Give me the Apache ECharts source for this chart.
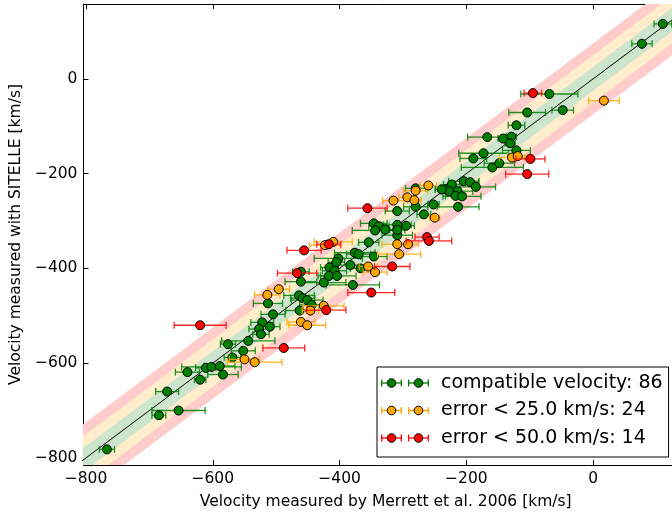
<!DOCTYPE html>
<html>
<head>
<meta charset="utf-8">
<script src="https://cdn.jsdelivr.net/npm/echarts@6/dist/echarts.min.js"></script>
<style>
  html, body { margin: 0; padding: 0; background: #fff; }
  #chart { width: 672px; height: 516px; }
</style>
</head>
<body>
<div id="chart"></div>
<script>
// [x Merrett, y SITELLE, x error]  (km/s)
var greenPts = [
  [110,116,14],[77,74,16],[-69,-32,45],[-104,-71,29],[-48,-66,17],[-121,-98,13],[-167,-123,31],
  [-142,-126,8],[-129,-122,8],[-131,-136,8],[-121,-151,22],[-173,-157,39],[-189,-168,21],
  [-159,-187,49],[-148,-178,24],
  [-223,-223,13],[-204,-216,24],[-194,-218,13],[-185,-228,31],[-233,-233,16],[-227,-237,13],
  [-214,-237,24],[-217,-247,16],[-207,-248,30],[-280,-231,16],[-280,-270,19],[-252,-265,9],
  [-213,-270,33],[-309,-279,19],[-267,-286,11],
  [-346,-305,21],[-338,-311,16],[-309,-308,22],[-295,-310,13],[-344,-320,36],[-328,-318,16],
  [-309,-330,24],[-354,-345,16],[-376,-367,32],[-370,-370,19],[-346,-375,21],[-402,-379,38],
  [-405,-387,13],[-383,-393,27],[-416,-398,14],[-408,-405,19],[-417,-416,13],[-404,-416,30],
  [-367,-400,16],[-379,-435,42],[-425,-430,35],
  [-461,-407,13],[-461,-428,25],[-464,-457,24],[-458,-463,19],[-451,-467,25],[-444,-477,19],
  [-513,-474,23],[-463,-489,22],[-505,-497,19],[-522,-514,18],[-527,-528,16],[-510,-523,16],
  [-524,-539,13],[-544,-553,42],[-576,-560,12],[-552,-574,19],[-569,-588,13],[-611,-610,16],
  [-602,-608,47],[-589,-606,24],[-640,-619,19],[-584,-624,24],[-620,-635,9],[-672,-660,18],
  [-654,-700,42],[-685,-710,11],[-767,-782,12],
  [-309,-319,12],[-239,-233,10]
];
var orangePts = [
  [17,-46,24],[-128,-166,20],[-119,-163,16],[-260,-225,13],[-280,-236,19],[-293,-250,13],
  [-282,-256,11],[-315,-257,17],[-250,-293,8],[-309,-349,24],[-292,-349,16],[-306,-370,34],
  [-355,-396,14],[-344,-408,19],[-410,-344,30],[-423,-351,24],[-425,-479,32],[-446,-489,13],
  [-514,-456,20],[-496,-444,17],[-461,-513,22],[-451,-520,29],[-550,-592,24],[-534,-598,43]
];
var redPts = [
  [-95,-30,14],[-99,-169,23],[-104,-201,34],[-356,-273,31],[-262,-334,19],[-259,-342,36],
  [-456,-362,27],[-417,-349,19],[-467,-410,31],[-421,-488,31],[-620,-520,41],[-488,-568,33],
  [-317,-396,28],[-350,-451,37]
];
var groupNames = ['compatible velocity: 86', 'error < 25.0 km/s: 24', 'error < 50.0 km/s: 14'];
var bandHalf = [75, 50, 25];
var diagEnds = [-1000, 400];
var xTicks = [-800, -600, -400, -200, 0];
var yTicks = [-800, -600, -400, -200, 0];

var colors = ['#008000', '#ffa500', '#ff0000'];
var bandColors = ['#ffcccc', '#ffedcc', '#cce5cc'];
var font = 'DejaVu Sans';

function minus(v) { return v < 0 ? '\u2212' + Math.abs(v) : String(v); }

function legendIcon(c) {
  var bar = function (o) {
    return "<line x1='" + (o + 0.7) + "' y1='7' x2='" + (o + 20.3) + "' y2='7'/>" +
      "<line x1='" + (o + 0.7) + "' y1='3.5' x2='" + (o + 0.7) + "' y2='10.5'/>" +
      "<line x1='" + (o + 20.3) + "' y1='3.5' x2='" + (o + 20.3) + "' y2='10.5'/>";
  };
  var svg = "<svg xmlns='http://www.w3.org/2000/svg' width='54' height='14' viewBox='0 0 54 14'>" +
    "<g stroke='" + c + "' stroke-width='1.3'>" + bar(0) + bar(27) + "</g>" +
    "<circle cx='10.5' cy='7' r='4.3' fill='" + c + "' stroke='#000' stroke-width='1'/>" +
    "<circle cx='37.5' cy='7' r='4.3' fill='" + c + "' stroke='#000' stroke-width='1'/></svg>";
  return 'image://data:image/svg+xml;charset=utf-8,' + encodeURIComponent(svg);
}

function barsSeries(name, data, c, z) {
  return {
    name: name, type: 'custom', data: data, z: z, clip: true, silent: true,
    renderItem: function (params, api) {
      var x = api.value(0), y = api.value(1), e = api.value(2);
      var a = api.coord([x - e, y]), b = api.coord([x + e, y]);
      var st = { stroke: c, lineWidth: 1.3, opacity: 0.85 };
      return { type: 'group', children: [
        { type: 'line', shape: { x1: a[0], y1: a[1], x2: b[0], y2: b[1] }, style: st },
        { type: 'line', shape: { x1: a[0], y1: a[1] - 3.5, x2: a[0], y2: a[1] + 3.5 }, style: st },
        { type: 'line', shape: { x1: b[0], y1: b[1] - 3.5, x2: b[0], y2: b[1] + 3.5 }, style: st }
      ] };
    }
  };
}

function pointsSeries(name, data, c, z) {
  return {
    name: name, type: 'scatter', data: data, z: z, symbol: 'circle', symbolSize: 9,
    itemStyle: { color: c, borderColor: '#000', borderWidth: 1, opacity: 1 }
  };
}

var bandData = bandHalf.map(function (d, i) { return [d, i]; });

var series = [
  {
    type: 'custom', data: bandData, z: 1, clip: true, silent: true,
    renderItem: function (params, api) {
      var d = api.value(0), i = api.value(1);
      var lo = diagEnds[0], hi = diagEnds[1];
      var pts = [[lo, lo - d], [hi, hi - d], [hi, hi + d], [lo, lo + d]].map(function (p) { return api.coord(p); });
      return { type: 'polygon', shape: { points: pts }, style: { fill: bandColors[i] } };
    }
  },
  {
    type: 'line', data: [[diagEnds[0], diagEnds[0]], [diagEnds[1], diagEnds[1]]], z: 2,
    symbol: 'none', silent: true, lineStyle: { color: '#000', width: 1 }
  }
];
[greenPts, orangePts, redPts].forEach(function (pts, i) {
  series.push(barsSeries(groupNames[i], pts, colors[i], 3 + i * 2));
  series.push(pointsSeries(groupNames[i], pts, colors[i], 4 + i * 2));
});

var chart = echarts.init(document.getElementById('chart'), null, { renderer: 'canvas' });
chart.setOption({
  animation: false,
  backgroundColor: '#fff',
  textStyle: { fontFamily: font },
  // picture is cropped at the right: no right spine
  grid: { left: 83, right: 0, top: 4, bottom: 51, containLabel: false },
  legend: {
    orient: 'vertical', left: 377, top: 367,
    padding: [6, 6, 9, 4], itemGap: 7.5, itemWidth: 54, itemHeight: 14,
    borderColor: '#000', borderWidth: 1, borderRadius: 0, backgroundColor: '#fff',
    selectedMode: false,
    textStyle: { fontFamily: font, fontSize: 19, color: '#000', lineHeight: 20, padding: [0, 0, 0, 1] },
    data: groupNames.map(function (n, i) { return { name: n, icon: legendIcon(colors[i]) }; })
  },
  xAxis: [
    {
      type: 'value', min: -804, max: 124.4, position: 'bottom',
      name: 'Velocity measured by Merrett et al. 2006 [km/s]', nameLocation: 'middle', nameGap: 29,
      nameTextStyle: { fontFamily: font, fontSize: 15.5, color: '#000', padding: [0, 0, 0, 16] },
      axisLine: { show: true, onZero: false, lineStyle: { color: '#000', width: 1 } },
      axisTick: { show: true, inside: true, length: 5, customValues: xTicks, lineStyle: { color: '#000' } },
      axisLabel: { show: true, margin: 6, customValues: xTicks, formatter: minus,
        fontFamily: font, fontSize: 15.5, color: '#000' },
      splitLine: { show: false }
    },
    {
      type: 'value', min: -804, max: 124.4, position: 'top',
      axisLine: { show: true, onZero: false, lineStyle: { color: '#000', width: 1 } },
      axisTick: { show: true, inside: true, length: 5, customValues: xTicks, lineStyle: { color: '#000' } },
      axisLabel: { show: false },
      splitLine: { show: false }
    }
  ],
  yAxis: {
    type: 'value', min: -815, max: 158,
    name: 'Velocity measured with SITELLE [km/s]', nameLocation: 'middle', nameGap: 50,
    nameTextStyle: { fontFamily: font, fontSize: 15.5, color: '#000' },
    axisLine: { show: true, onZero: false, lineStyle: { color: '#000', width: 1 } },
    axisTick: { show: true, inside: true, length: 5, customValues: yTicks, lineStyle: { color: '#000' } },
    axisLabel: { show: true, margin: 6, customValues: yTicks, formatter: minus,
      fontFamily: font, fontSize: 15.5, color: '#000' },
    splitLine: { show: false }
  },
  series: series
});
</script>
</body>
</html>
